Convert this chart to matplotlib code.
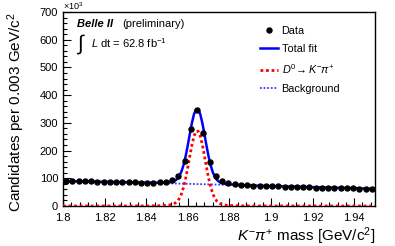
import numpy as np
import matplotlib.pyplot as plt
from matplotlib.ticker import MultipleLocator

plt.rcParams['font.family'] = ['Liberation Sans', 'DejaVu Sans']
plt.rcParams['mathtext.fontset'] = 'custom'
plt.rcParams['mathtext.rm'] = 'Liberation Sans'
plt.rcParams['mathtext.it'] = 'Liberation Sans:italic'
plt.rcParams['mathtext.bf'] = 'Liberation Sans:bold'

# Data: K- pi+ mass, 0.003 GeV bins, counts in units of 10^3
bin_lo = 1.80
bin_width = 0.003
counts = [91, 90, 89.5, 89, 88.5, 88, 87.5, 87, 86.5, 86,
          85.5, 85, 84.5, 84, 84, 85, 87, 93, 110, 163,
          279, 348, 264, 160, 109, 92, 83, 78, 76, 74.5,
          73.5, 72.5, 72, 71, 70.5, 70, 69, 68.5, 68, 67,
          66.5, 66, 65.5, 65, 64.5, 64, 63.5, 63, 62.5, 62]
centers = bin_lo + bin_width * (np.arange(len(counts)) + 0.5)

# fit curves
peak_x = [1.850, 1.851, 1.852, 1.853, 1.854, 1.855, 1.856, 1.857, 1.858, 1.859,
          1.860, 1.861, 1.862, 1.863, 1.864, 1.865, 1.866, 1.867, 1.868, 1.869,
          1.870, 1.871, 1.872, 1.873, 1.874, 1.875, 1.876, 1.877, 1.878, 1.879, 1.880]
sig_peak = [2.5, 3.4, 4.7, 7.0, 10.8, 17.3, 28.1, 44.8, 68.8, 100.7,
            139.2, 181.0, 220.8, 252.3, 269.8, 269.8, 252.3, 220.8, 181.0, 139.2,
            100.7, 68.8, 44.8, 28.1, 17.3, 10.8, 7.0, 4.7, 3.4, 2.5, 1.9]
tot_peak = [84.5, 85.2, 86.3, 88.4, 92.0, 98.3, 108.9, 125.4, 149.2, 180.9,
            219.2, 260.8, 300.4, 331.7, 349.0, 348.8, 331.1, 299.4, 259.4, 217.4,
            178.7, 146.6, 122.4, 105.5, 94.5, 87.8, 83.8, 81.3, 79.8, 78.7, 77.9]

sig_x = [1.80, 1.84, 1.845] + peak_x + [1.885, 1.89, 1.95]
sig_y = [0, 0.2, 0.8] + sig_peak + [0.8, 0.2, 0]
tot_x = [1.80, 1.84, 1.845] + peak_x + [1.885, 1.89, 1.90, 1.92, 1.95]
tot_y = [90, 84.2, 83.8] + tot_peak + [75.8, 74.2, 72, 68, 62]
bkg_x = [1.80, 1.85, 1.90, 1.95]
bkg_y = [90, 82, 72, 62]

fig = plt.figure(figsize=(3.95, 2.46), dpi=100)
ax = fig.add_axes([0.1595, 0.1626, 0.7898, 0.7886])

ax.plot(bkg_x, bkg_y, color='#3c3cff', lw=1.3, ls=(0, (1, 1)), label='Background', zorder=2)
ax.plot(sig_x, sig_y, color='#ff0000', lw=2.0, ls=(0, (1, 1)), label=r'$D^{0}\!\rightarrow K^{-}\pi^{+}$', zorder=3)
ax.plot(tot_x, tot_y, color='#0000ff', lw=1.8, label='Total fit', zorder=4)
ax.plot(centers, counts, 'o', color='black', ms=3.6, label='Data', zorder=5)

ax.set_xlim(1.80, 1.95)
ax.set_ylim(0, 700)
ax.xaxis.set_major_locator(MultipleLocator(0.02))
ax.xaxis.set_minor_locator(MultipleLocator(0.004))
ax.yaxis.set_major_locator(MultipleLocator(100))
ax.yaxis.set_minor_locator(MultipleLocator(20))
ax.xaxis.set_major_formatter(plt.FuncFormatter(lambda v, p: ('%.2f' % v).rstrip('0').rstrip('.')))
ax.tick_params(which='both', direction='in', top=False, right=False, labelsize=8)
ax.tick_params(which='major', length=6, width=0.8)
ax.tick_params(which='minor', length=3, width=0.8)
ax.tick_params(axis='x', pad=5)
for s in ax.spines.values():
    s.set_linewidth(1.0)

ax.set_ylabel(r'Candidates per 0.003 GeV/c$^{2}$', fontsize=11, loc='top', labelpad=9)
ax.set_xlabel(r'$K^{-}\pi^{+}$ mass [GeV/c$^{2}$]', fontsize=11, loc='right', labelpad=2)

ax.text(0.0, 1.0, r'$\times$10$^{3}$', transform=ax.transAxes, fontsize=6.5, va='bottom', ha='left')
ax.text(0.045, 0.94, 'Belle II', transform=ax.transAxes, fontsize=8, style='italic',
        weight='bold', va='center')
ax.text(0.19, 0.94, '(preliminary)', transform=ax.transAxes, fontsize=8, va='center')
ax.text(0.045, 0.835, '\u222b', transform=ax.transAxes, fontsize=15, va='center')
ax.text(0.09, 0.84, r'$L$ dt = 62.8 fb$^{-1}$', transform=ax.transAxes, fontsize=8, va='center')

h, l = ax.get_legend_handles_labels()
order = [3, 2, 1, 0]
ax.legend([h[i] for i in order], [l[i] for i in order], loc='upper left',
          bbox_to_anchor=(0.6, 0.98), frameon=False, fontsize=7.8,
          handlelength=1.7, handletextpad=0.3, labelspacing=0.75)

fig.savefig('out.png', dpi=100)
